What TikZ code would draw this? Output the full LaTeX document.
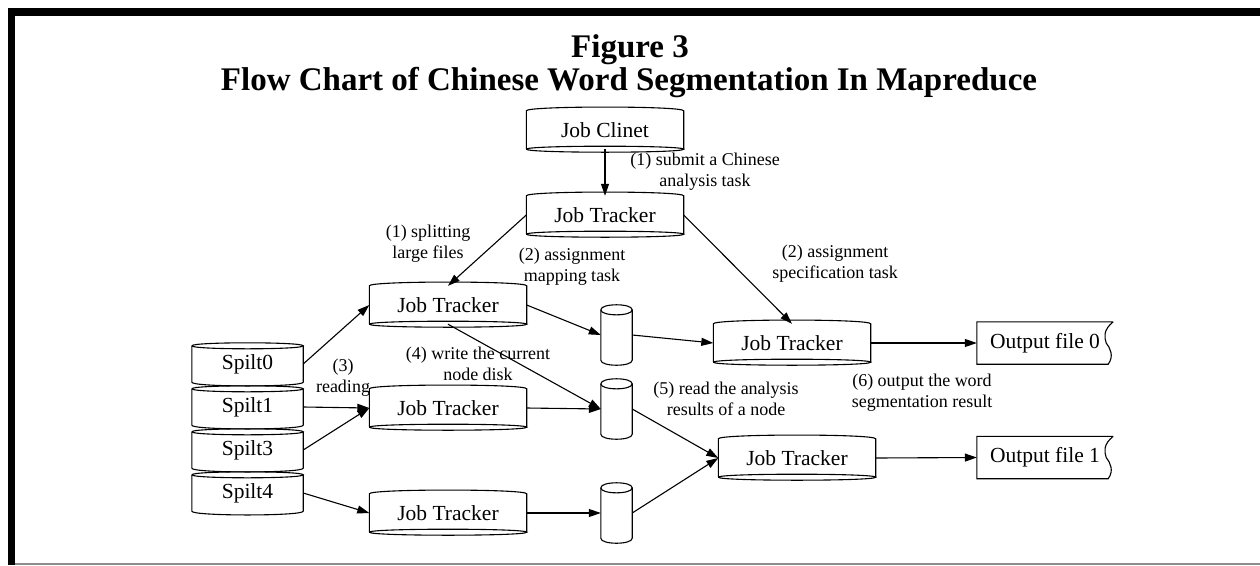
\documentclass[tikz,border=0pt]{standalone}
\usepackage{fontspec}
\setmainfont{Liberation Serif}
\usetikzlibrary{arrows.meta,calc}
\newcommand\jobshape[1]{%
  \draw[outl] (#1.south west) -- (#1.north west)
    .. controls ($(#1.north west)+(0,-5)$) and ($(#1.north east)+(0,-5)$) .. (#1.north east)
    -- (#1.south east);
  \draw[outl] (#1.south west)
    .. controls ($(#1.south west)+(0,-4)$) and ($(#1.south east)+(0,-4)$) .. (#1.south east)
    .. controls ($(#1.south east)+(0,4)$) and ($(#1.south west)+(0,4)$) .. (#1.south west);
}
\newcommand\splitshape[1]{%
  \draw[outl] (#1.north west)
    .. controls ($(#1.north west)+(0,-4)$) and ($(#1.north east)+(0,-4)$) .. (#1.north east)
    .. controls ($(#1.north east)+(0,4)$) and ($(#1.north west)+(0,4)$) .. (#1.north west);
  \draw[outl] (#1.north west) -- (#1.south west)
    .. controls ($(#1.south west)+(0,5)$) and ($(#1.south east)+(0,5)$) .. (#1.south east)
    -- (#1.north east);
}
\newcommand\diskshape[1]{%
  \draw[outl] (#1.north west)
    .. controls ($(#1.north west)+(0,-6.7)$) and ($(#1.north east)+(0,-6.7)$) .. (#1.north east)
    .. controls ($(#1.north east)+(0,6.7)$) and ($(#1.north west)+(0,6.7)$) .. (#1.north west);
  \draw[outl] (#1.north west) -- (#1.south west)
    .. controls ($(#1.south west)+(0,6.7)$) and ($(#1.south east)+(0,6.7)$) .. (#1.south east)
    -- (#1.north east);
}
\newcommand\outshape[1]{%
  \coordinate (#1T) at (#1.north east);
  \coordinate (#1M) at ($(#1.east)+(-7,0)$);
  \coordinate (#1B) at ($(#1.south east)+(-5,0)$);
  \draw[outl] (#1T) -- (#1.north west) -- (#1.south west) -- (#1B)
    .. controls ($(#1B)+(6,-8)$) and ($(#1M)+(4,5)$) .. (#1M)
    .. controls ($(#1M)+(-2,-6)$) and ($(#1T)+(-10,8)$) .. (#1T);
}
\begin{document}
\begin{tikzpicture}[x=1pt,y=-1pt,
  every node/.style={inner sep=0pt},
  lbl/.style={font=\fontsize{18}{21}\selectfont, align=center},
  boxtext/.style={font=\fontsize{21.5}{24}\selectfont},
  jobbox/.style={boxtext, minimum width=157pt, minimum height=38pt},
  splitbox/.style={boxtext, minimum width=111pt, minimum height=36pt},
  diskbox/.style={minimum width=31pt, minimum height=50pt},
  outbox/.style={boxtext, minimum width=136pt, minimum height=42pt},
  outl/.style={line width=1.1pt},
  conn/.style={line width=1.1pt, -{Triangle[length=12pt,width=8pt]}},
  titlefont/.style={font=\fontsize{33}{36}\selectfont\bfseries},
]
\useasboundingbox (0,0) rectangle (1260,565);
% frame
\fill[black] (8,8) rectangle (1260,16);
\fill[black] (8,8) rectangle (15,565);
\fill[black!45] (15,563) rectangle (1260,565);
% title
\node[titlefont, anchor=base] (t1) at (630,57) {Figure 3};
\node[titlefont, anchor=base] (t2) at (629,90) {Flow Chart of Chinese Word Segmentation In Mapreduce};
% nodes
\node[jobbox] (jc) at (605,130) {Job Clinet};
\node[jobbox] (jt0) at (605,215) {Job Tracker};
\node[jobbox] (jt1) at (448,305) {Job Tracker};
\node[jobbox] (jt2) at (448,408) {Job Tracker};
\node[jobbox] (jt3) at (448,513) {Job Tracker};
\node[jobbox] (jt4) at (792,343) {Job Tracker};
\node[jobbox] (jt5) at (797,458) {Job Tracker};
\node[splitbox] (s0) at (247.5,364) {Spilt0};
\node[splitbox] (s1) at (247.5,407) {Spilt1};
\node[splitbox] (s3) at (247.5,450) {Spilt3};
\node[splitbox] (s4) at (247.5,493) {Spilt4};
\node[diskbox] (d1) at (616.5,335) {};
\node[diskbox] (d2) at (616.5,409) {};
\node[diskbox] (d3) at (616.5,513) {};
\node[outbox] (o0) at (1045,343) {Output file 0};
\node[outbox] (o1) at (1045,457.5) {Output file 1};
\foreach \n in {jc,jt0,jt1,jt2,jt3,jt4,jt5} {\jobshape{\n}}
\foreach \n in {s0,s1,s3,s4} {\splitshape{\n}}
\foreach \n in {d1,d2,d3} {\diskshape{\n}}
\outshape{o0}
\outshape{o1}
% connectors
\draw[conn] (jc.south) -- (jt0.north);
\draw[conn] (jt0.west) -- (jt1.north);
\draw[conn] (jt0.east) -- (jt4.north);
\draw[conn] (s0.east) -- (jt1.west);
\draw[conn] (s1.east) -- (jt2.west);
\draw[conn] (s3.east) -- (jt2.west);
\draw[conn] (s4.east) -- (jt3.west);
\draw[conn] (jt1.east) -- (d1.west);
\draw[conn] (jt1.south) -- (d2.west);
\draw[conn] (jt2.east) -- (d2.west);
\draw[conn] (jt3.east) -- (d3.west);
\draw[conn] (d1.east) -- (jt4.west);
\draw[conn] (d2.east) -- (jt5.west);
\draw[conn] (d3.east) -- (jt5.west);
\draw[conn] (jt4.east) -- (o0.west);
\draw[conn] (jt5.east) -- (o1.west);
% labels
\node[lbl] (l1) at (705,172) {(1) submit a Chinese\\analysis task};
\node[lbl] (l1s) at (428,244) {(1) splitting\\large files};
\node[lbl] (l2m) at (572,267) {(2) assignment\\mapping task};
\node[lbl] (l2s) at (835,264) {(2) assignment\\specification task};
\node[lbl] (l3) at (343,378) {(3)\\reading};
\node[lbl] (l4) at (478,364) {(4) write the current\\node disk};
\node[lbl] (l5) at (726,399) {(5) read the analysis\\results of a node};
\node[lbl] (l6) at (922,393) {(6) output the word\\segmentation result};
\end{tikzpicture}
\end{document}
